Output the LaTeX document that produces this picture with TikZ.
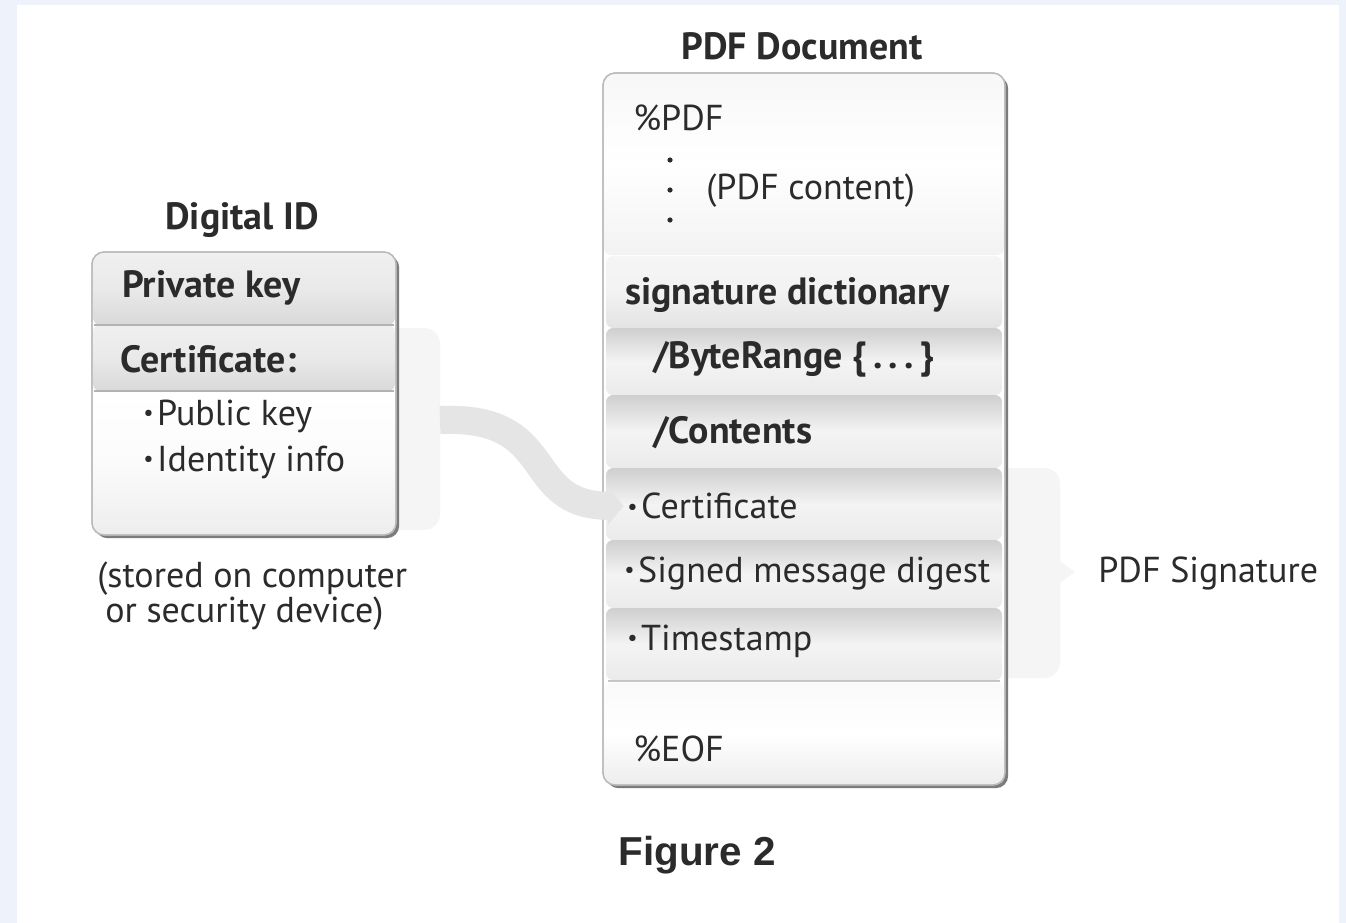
\documentclass[tikz,border=0pt]{standalone}
\usepackage{fontspec}
\setmainfont{PT Sans}
\newfontfamily\figfont{Liberation Sans}
\usetikzlibrary{shadows,arrows.meta,positioning}

\definecolor{pagebg}{HTML}{EEF2FA}
\definecolor{ink}{HTML}{2B2B2B}

\newcommand\bul{\raisebox{0.25ex}{\fontsize{13}{13}\selectfont •}\hspace{2pt}}

\tikzset{
  outerbox/.style={rounded corners=7pt, fill=white, draw=gray!55, line width=0.8pt,
    drop shadow={shadow xshift=1.8pt, shadow yshift=-1.8pt, fill=black!60, opacity=0.85}},
  band/.style={rounded corners=4pt, top color=gray!38, bottom color=gray!16, middle color=gray!9},
  headband/.style={rounded corners=4pt, top color=gray!12, bottom color=gray!30, middle color=gray!17},
  plain/.style={rounded corners=4pt, top color=white, bottom color=gray!14, middle color=gray!3},
  bracket/.style={rounded corners=9pt, fill=gray!8},
  txt/.style={font=\fontsize{20.5}{24}\selectfont, text=ink, inner sep=0pt, anchor=west},
  btxt/.style={txt, font=\fontsize{21.6}{25}\selectfont\bfseries},
  title/.style={btxt, anchor=center},
  flow/.style={draw=gray!20, line width=16pt, -{Triangle[length=9pt, width=22pt]}},
}

\begin{document}
\begin{tikzpicture}[x=0.02cm, y=-0.02cm]
  \fill[pagebg] (0,0) rectangle (1346,923);
  \fill[white] (17,5) rectangle (1339,923);
  \useasboundingbox (0,0) rectangle (1346,923);

  % brackets behind the boxes
  \path[bracket] (380,328) -- (440,328) -- (440,530) -- (380,530) -- cycle;
  \path[bracket] (990,468) -- (1060,468) -- (1060,678) -- (990,678) -- cycle;
  \fill[gray!8] (1058,560) -- (1075,572) -- (1058,584) -- cycle;

  % Digital ID
  \node[title] (idtitle) at (242,220) {Digital ID};
  \path[outerbox] (92,252) rectangle (396,535);
  \path[headband] (93,253) rectangle (395,325);
  \path[headband] (93,325) rectangle (395,391);
  \draw[gray!60, line width=1.2pt] (94,325) -- (394,325);
  \draw[gray!60, line width=1.2pt] (94,391) -- (394,391);
  \path[plain] (93,392) rectangle (395,534);
  \draw[gray!55, line width=0.8pt, rounded corners=7pt] (92,252) rectangle (396,535);
  \node[btxt] (privkey) at (122,288) {Private key};
  \node[btxt] (certif) at (120,359) {Certificate:};
  \node[txt] (pubkey) at (143,416) {\bul Public key};
  \node[txt] (identity) at (143,462) {\bul Identity info};
  \node[txt] (stored1) at (97,579) {(stored on computer};
  \node[txt] (stored2) at (105,614) {or security device)};

  % PDF document
  \node[title] (pdftitle) at (802,46) {PDF Document};
  \path[outerbox] (603,73) rectangle (1005,785);
  \path[plain, top color=gray!6, bottom color=gray!10, middle color=white] (604,74) rectangle (1004,255);
  \path[headband, top color=gray!8, bottom color=gray!22, middle color=gray!10] (606,256) rectangle (1002,328);
  \foreach \ya/\yb in {328/395, 395/468, 468/540, 540/608, 608/680}
    \path[band] (606,\ya) rectangle (1002,\yb);
  \draw[gray!45, line width=1pt] (608,681) -- (1000,681);
  \path[plain, top color=gray!4, bottom color=gray!14, middle color=white] (604,683) rectangle (1004,784);
  \draw[gray!55, line width=0.8pt, rounded corners=7pt] (603,73) rectangle (1005,785);

  \node[txt] (pdfhead) at (633,118) {\%PDF};
  \foreach \yy in {160,190,220}
    \fill[ink] (670,\yy) circle (2.6);
  \node[txt] (pdfcontent) at (706,191) {(PDF content)};
  \node[btxt] (sigdict) at (625,295) {signature dictionary};
  \node[btxt] (byterange) at (653,359) {/ByteRange \{\,.\,.\,.\,\}};
  \node[btxt] (contents) at (653,433) {/Contents};
  \node[txt] (pcert) at (627,506) {\bul Certificate};
  \node[txt] (digest) at (624,573) {\bul Signed message digest};
  \node[txt] (stamp) at (627,641) {\bul Timestamp};
  \node[txt] (eof) at (633,749) {\%EOF};

  \node[txt] (pdfsig) at (1098,573) {PDF Signature};

  % certificate goes into the signature
  \coordinate (idtap) at (440,420);
  \draw[flow] (idtap) .. controls (560,415) and (520,505) .. ([xshift=-2pt]pcert.west);

  \node[font=\figfont\bfseries\fontsize{23}{26}\selectfont, text=ink] (figlabel) at (697,855) {Figure 2};
\end{tikzpicture}
\end{document}
